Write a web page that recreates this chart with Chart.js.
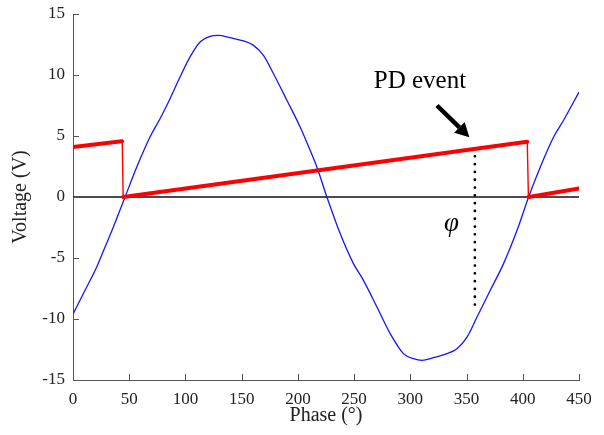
<!DOCTYPE html>
<html>
<head>
<meta charset="utf-8">
<script src="https://cdn.jsdelivr.net/npm/chart.js@4.4.1/dist/chart.umd.min.js"></script>
<style>
  html, body { margin: 0; padding: 0; background: #fff; }
  #wrap { width: 604px; height: 435px; }
</style>
</head>
<body>
<div id="wrap"><canvas id="pdChart"></canvas></div>
<script>
// Blue sine-like supply voltage
const bluePhase = [0, 10.7, 21.1, 28.5, 35.9, 46.3, 56.7, 68.5, 77.4, 86.3, 95.2, 104.1, 113, 121.9, 129.3, 139.7, 151.6, 160.5, 169.4, 178.3, 190.2, 202, 210.9, 216.9, 225.8, 237.6, 249.4, 258.3, 270.3, 282.1, 293.9, 302.8, 310.3, 320.6, 332.6, 341.5, 350.4, 359.3, 371.1, 382.9, 394.9, 405.2, 415.6, 427.4, 436.3, 450];
const blueVolt  = [-9.6, -7.65, -5.74, -4.1, -2.46, 0, 2.46, 4.92, 6.42, 8.06, 9.84, 11.48, 12.7, 13.17, 13.25, 13.06, 12.79, 12.43, 11.61, 10.1, 7.93, 5.74, 3.83, 2.46, 0, -3.0, -5.46, -6.83, -9.02, -11.2, -12.84, -13.25, -13.39, -13.17, -12.84, -12.43, -11.48, -9.84, -7.65, -5.46, -2.73, 0, 2.46, 4.92, 6.29, 8.6];

// Red sawtooth ramps (null breaks between teeth)
const rampPhase = [0, 43.3, null, 44.8, 403.7, null, 405.2, 450];
const rampVolt  = [4.1, 4.57, null, 0, 4.53, null, 0, 0.7];

// Thin vertical drops of the sawtooth
const dropPhase = [43.8, 44.6, null, 404, 405];
const dropVolt  = [4.57, 0, null, 4.53, 0];

// Zero reference line
const zeroPhase = [0, 450];
const zeroVolt  = [0, 0];

// PD event marker (dotted line from the ramp down to the sine)
const eventPhase = [357.4, 357.4];
const eventVolt  = [3.97, -9.3];

// Annotation anchors, in data units
const arrowFrom = { x: 323.7, y: 7.5 };
const arrowTo   = { x: 352.5, y: 4.9 };
const pdLabel   = { x: 267.5, y: 8.9, text: 'PD event' };
const phiLabel  = { x: 336.6, y: -2.2, text: 'φ' };

const phaseTickStep = 50;
const voltTickStep = 5;

const serif = '"Liberation Serif", "Times New Roman", serif';
const axisColor = '#555555';
const textColor = '#222222';

function toPoints(xs, ys) {
    return xs.map((x, i) => (x === null ? { x: null, y: null } : { x: x, y: ys[i] }));
}

// MATLAB-style ticks pointing into the plot
const innerTicks = {
    id: 'innerTicks',
    afterDraw(chart) {
        const { ctx, chartArea, scales } = chart;
        ctx.save();
        ctx.strokeStyle = axisColor;
        ctx.lineWidth = 1;
        scales.x.ticks.forEach(t => {
            const px = Math.round(scales.x.getPixelForValue(t.value)) + 0.5;
            ctx.beginPath();
            ctx.moveTo(px, chartArea.bottom);
            ctx.lineTo(px, chartArea.bottom - 6);
            ctx.stroke();
        });
        scales.y.ticks.forEach(t => {
            const py = Math.round(scales.y.getPixelForValue(t.value)) + 0.5;
            ctx.beginPath();
            ctx.moveTo(chartArea.left, py);
            ctx.lineTo(chartArea.left + 6, py);
            ctx.stroke();
        });
        ctx.restore();
    }
};

// Arrow and text labels
const annotations = {
    id: 'annotations',
    afterDraw(chart) {
        const { ctx, scales } = chart;
        const x0 = scales.x.getPixelForValue(arrowFrom.x);
        const y0 = scales.y.getPixelForValue(arrowFrom.y);
        const x1 = scales.x.getPixelForValue(arrowTo.x);
        const y1 = scales.y.getPixelForValue(arrowTo.y);
        const ang = Math.atan2(y1 - y0, x1 - x0);
        const headLen = 14, headHalf = 7.5;
        const bx = x1 - headLen * Math.cos(ang);
        const by = y1 - headLen * Math.sin(ang);

        ctx.save();
        ctx.strokeStyle = '#000';
        ctx.fillStyle = '#000';
        ctx.lineWidth = 4.5;
        ctx.beginPath();
        ctx.moveTo(x0, y0);
        ctx.lineTo(bx, by);
        ctx.stroke();
        ctx.beginPath();
        ctx.moveTo(x1, y1);
        ctx.lineTo(bx + headHalf * Math.sin(ang), by - headHalf * Math.cos(ang));
        ctx.lineTo(bx - headHalf * Math.sin(ang), by + headHalf * Math.cos(ang));
        ctx.closePath();
        ctx.fill();

        ctx.font = '25px ' + serif;
        ctx.textAlign = 'left';
        ctx.textBaseline = 'alphabetic';
        ctx.fillText(pdLabel.text, scales.x.getPixelForValue(pdLabel.x), scales.y.getPixelForValue(pdLabel.y));

        ctx.font = 'italic 27px ' + serif;
        ctx.textAlign = 'center';
        ctx.textBaseline = 'middle';
        ctx.fillText(phiLabel.text, scales.x.getPixelForValue(phiLabel.x), scales.y.getPixelForValue(phiLabel.y));
        ctx.restore();
    }
};

document.addEventListener('DOMContentLoaded', function() {
    const ctx = document.getElementById('pdChart').getContext('2d');
    new Chart(ctx, {
        type: 'scatter',
        data: {
            datasets: [
                {
                    label: 'Ramp',
                    data: toPoints(rampPhase, rampVolt),
                    showLine: true,
                    spanGaps: false,
                    borderColor: '#ff0000',
                    borderWidth: 4,
                    borderCapStyle: 'round',
                    pointRadius: 0,
                    order: 0
                },
                {
                    label: 'Drop',
                    data: toPoints(dropPhase, dropVolt),
                    showLine: true,
                    spanGaps: false,
                    borderColor: '#ff0000',
                    borderWidth: 1.4,
                    pointRadius: 1.8,
                    pointBackgroundColor: '#ff0000',
                    pointBorderWidth: 0,
                    order: 1
                },
                {
                    label: 'PD event',
                    data: toPoints(eventPhase, eventVolt),
                    showLine: true,
                    borderColor: '#000',
                    borderWidth: 2.8,
                    borderDash: [0, 7.8],
                    borderCapStyle: 'round',
                    pointRadius: 0,
                    order: 1
                },
                {
                    label: 'Supply',
                    data: toPoints(bluePhase, blueVolt),
                    showLine: true,
                    borderColor: '#1515ff',
                    borderWidth: 1.3,
                    cubicInterpolationMode: 'monotone',
                    pointRadius: 0,
                    order: 2
                },
                {
                    label: 'Zero',
                    data: toPoints(zeroPhase, zeroVolt),
                    showLine: true,
                    borderColor: '#111',
                    borderWidth: 1.5,
                    pointRadius: 0,
                    order: 3
                }
            ]
        },
        options: {
            responsive: true,
            maintainAspectRatio: false,
            animation: false,
            layout: { padding: { left: 0, right: 25, top: 14, bottom: 0 } },
            plugins: {
                legend: { display: false },
                tooltip: { enabled: false }
            },
            scales: {
                x: {
                    type: 'linear',
                    min: 0,
                    max: 450,
                    afterFit: function(scale) {
                        scale.height = 55;
                        scale.paddingLeft = 0;
                        scale.paddingRight = 0;
                    },
                    grid: { display: false, drawTicks: false },
                    border: { display: true, color: axisColor, width: 1 },
                    ticks: {
                        stepSize: phaseTickStep,
                        padding: 9,
                        color: textColor,
                        font: { family: serif, size: 17 },
                        maxRotation: 0
                    },
                    title: {
                        display: true,
                        text: 'Phase (°)',
                        color: textColor,
                        font: { family: serif, size: 20 },
                        padding: { top: 0, bottom: 7 }
                    }
                },
                y: {
                    type: 'linear',
                    min: -15,
                    max: 15,
                    afterFit: function(scale) {
                        scale.width = 73;
                        scale.paddingTop = 0;
                        scale.paddingBottom = 0;
                    },
                    grid: { display: false, drawTicks: false },
                    border: { display: true, color: axisColor, width: 1 },
                    ticks: {
                        stepSize: voltTickStep,
                        padding: 8,
                        color: textColor,
                        font: { family: serif, size: 17 }
                    },
                    title: {
                        display: true,
                        text: 'Voltage (V)',
                        color: textColor,
                        font: { family: serif, size: 20 },
                        padding: { top: 9, bottom: 0 }
                    }
                }
            }
        },
        plugins: [innerTicks, annotations]
    });
});
</script>
</body>
</html>
